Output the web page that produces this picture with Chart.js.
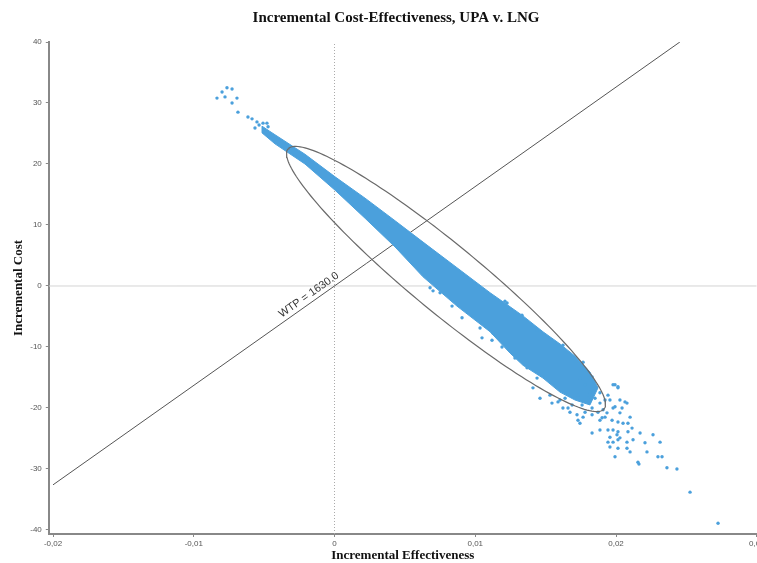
<!DOCTYPE html>
<html><head><meta charset="utf-8">
<script src="https://cdn.jsdelivr.net/npm/chart.js@4.4.1/dist/chart.umd.min.js"></script>
<style>
html,body{margin:0;padding:0;overflow:hidden;background:#fff;width:757px;height:563px}
#wrap{position:relative;width:792px;height:563px}
</style></head>
<body><div id="wrap"><canvas id="c"></canvas></div>
<script>
const chartTitle = 'Incremental Cost-Effectiveness, UPA v. LNG';
const xAxisTitle = 'Incremental Effectiveness';
const yAxisTitle = 'Incremental Cost';
const xTickValues = [-0.02, -0.01, 0, 0.01, 0.02, 0.03];
const xTickLabels = ['-0,02', '-0,01', '0', '0,01', '0,02', '0,03'];
const yTickValues = [-40, -30, -20, -10, 0, 10, 20, 30, 40];
const yTickLabels = ['-40', '-30', '-20', '-10', '0', '10', '20', '30', '40'];

const wtp = 1630;
const wtpLabel = 'WTP = 1630.0';
const wtpLineX = [-0.02, 0.02454];
const wtpLabelX = -0.00152;

const ellipseCenter = [0.007922, 1.148];
const ellipseMajor = [0.011226, -21.31];
const ellipseMinor = [-0.001542, -4.295];

// outline of the dense (solid) part of the simulation cloud
const denseBandX = [-0.00515, -0.00423, -0.00210, 0.00004, 0.00217, 0.00430, 0.00629, 0.00870, 0.01105, 0.01247, 0.01339, 0.01481, 0.01602, 0.01709, 0.01815, 0.01872,
  0.01815, 0.01709, 0.01602, 0.01481, 0.01339, 0.01247, 0.01105, 0.00870, 0.00629, 0.00430, 0.00217, 0.00004, -0.00210, -0.00423, -0.00515];
const denseBandY = [26.2, 24.8, 21.6, 17.9, 14.4, 10.7, 7.2, 3.0, -1.1, -3.4, -4.9, -7.5, -9.5, -11.5, -14.1, -16.7,
  -19.5, -18.7, -17.4, -15.1, -13.0, -11.0, -7.5, -3.3, 1.5, 6.4, 11.1, 15.7, 20.0, 23.3, 25.1];

// individually visible simulation points
const pointsX = [
  -0.00835, -0.00799, -0.00764, -0.00728, -0.00778, -0.00728, -0.00693, -0.00686, -0.00615, -0.00586, -0.00551, -0.00565, -0.00536, -0.00508, -0.00480, -0.00472,
  0.00679, 0.00700, 0.00750, 0.00835, 0.00906, 0.00927, 0.01211, 0.01226, 0.01332, 0.01034, 0.01048, 0.01126, 0.01389, 0.01439, 0.01623, 0.01766, 0.01830,
  0.01119, 0.01190, 0.01282, 0.01368, 0.01439, 0.01545, 0.01588, 0.01659, 0.01723, 0.01744, 0.01460, 0.01410, 0.01531,
  0.01744, 0.01780, 0.01815, 0.01851, 0.01886, 0.01858, 0.01801, 0.01759, 0.01830, 0.01872, 0.01908, 0.01922, 0.01886, 0.01844, 0.01730, 0.01688, 0.01780, 0.01638,
  0.01993, 0.02014, 0.01943, 0.02028, 0.02078, 0.01979, 0.02028, 0.02100, 0.01922, 0.01886, 0.01830, 0.01766, 0.01730, 0.01673, 0.01623, 0.01602,
  0.02064, 0.01957, 0.01993, 0.02043, 0.01936, 0.01901, 0.01972, 0.02014, 0.02050, 0.02114, 0.01830, 0.01886, 0.01943, 0.01957, 0.02007, 0.02014, 0.02085,
  0.01943, 0.01979, 0.02014, 0.02078, 0.02121, 0.02171, 0.02263, 0.02313, 0.01957, 0.02014, 0.02078, 0.02100, 0.02206, 0.02220, 0.01993, 0.02156, 0.02163,
  0.02298, 0.02327, 0.02362, 0.02433, 0.02526, 0.02725, 0.02085, 0.02028, 0.01979, 0.01979, 0.02014];
const pointsY = [
  30.8, 31.8, 32.5, 32.3, 31.0, 30.0, 30.8, 28.5, 27.7, 27.4, 26.9, 25.9, 26.4, 26.7, 26.7, 26.1,
  -0.3, -0.8, -1.1, -3.3, -5.2, 1.5, -2.5, -2.8, -4.8, -6.9, -8.5, -7.7, -6.9, -7.2, -9.7, -12.5, -14.9,
  -8.9, -10.0, -11.8, -13.4, -15.1, -19.2, -19.0, -20.0, -21.1, -22.5, -18.4, -16.7, -17.9,
  -15.1, -16.2, -17.4, -18.4, -19.2, -16.7, -18.4, -19.5, -20.0, -20.7, -20.3, -18.7, -17.5, -15.7, -17.9, -19.5, -20.7, -18.4,
  -16.2, -16.7, -17.9, -18.7, -19.2, -20.0, -20.8, -21.5, -21.5, -22.0, -21.1, -21.5, -22.0, -20.7, -20.0, -18.7,
  -19.0, -18.7, -19.8, -20.0, -20.8, -21.6, -22.0, -22.3, -22.5, -23.3, -24.1, -23.6, -23.6, -24.8, -24.4, -23.9, -23.9,
  -25.6, -25.6, -25.2, -25.6, -25.2, -24.1, -24.4, -25.6, -26.4, -26.6, -26.6, -27.2, -25.7, -27.2, -28.0, -28.9, -29.2,
  -28.0, -28.0, -29.8, -30.0, -33.8, -38.9, -22.5, -24.9, -23.6, -16.2, -16.5];

const BLUE = '#4ba0dc';

const bandData = denseBandX.map((x, i) => ({x, y: denseBandY[i]}));
bandData.push({x: denseBandX[0], y: denseBandY[0]});
const pointData = pointsX.map((x, i) => ({x, y: pointsY[i]}));
const wtpData = wtpLineX.map(x => ({x, y: wtp * x}));
const ellipseData = [];
for (let k = 0; k <= 180; k++) {
  const t = 2 * Math.PI * k / 180;
  ellipseData.push({
    x: ellipseCenter[0] + Math.cos(t) * ellipseMajor[0] + Math.sin(t) * ellipseMinor[0],
    y: ellipseCenter[1] + Math.cos(t) * ellipseMajor[1] + Math.sin(t) * ellipseMinor[1]
  });
}

const wtpLabelPlugin = {
  id: 'wtpLabel',
  afterDatasetsDraw(chart) {
    const {ctx, scales: {x, y}} = chart;
    const x1 = x.getPixelForValue(wtpLineX[0]), y1 = y.getPixelForValue(wtp * wtpLineX[0]);
    const x2 = x.getPixelForValue(wtpLineX[1]), y2 = y.getPixelForValue(wtp * wtpLineX[1]);
    const ang = Math.atan2(y2 - y1, x2 - x1);
    const px = x.getPixelForValue(wtpLabelX), py = y.getPixelForValue(wtp * wtpLabelX);
    ctx.save();
    ctx.translate(px, py);
    ctx.rotate(ang);
    ctx.font = '11px "Liberation Sans", Arial, sans-serif';
    ctx.fillStyle = '#333';
    ctx.textAlign = 'center';
    ctx.textBaseline = 'bottom';
    ctx.fillText(wtpLabel, 0, -2);
    ctx.restore();
  }
};

const titlePlugin = {
  id: 'mainTitle',
  afterDraw(chart) {
    const ctx = chart.ctx;
    ctx.save();
    ctx.font = 'bold 15px "Liberation Serif", "Times New Roman", serif';
    ctx.fillStyle = '#111';
    ctx.textAlign = 'center';
    ctx.textBaseline = 'middle';
    ctx.fillText(chartTitle, 396, 18);
    ctx.restore();
  }
};

const tickFont = {family: '"Liberation Sans", Arial, sans-serif', size: 8};
const titleFont = {family: '"Liberation Serif", "Times New Roman", serif', size: 13, weight: 'bold'};

new Chart(document.getElementById('c'), {
  type: 'scatter',
  data: {
    datasets: [
      {type: 'line', data: ellipseData, borderColor: '#6a6a6a', borderWidth: 1.2, pointRadius: 0, fill: false, order: 0},
      {type: 'scatter', data: pointData, backgroundColor: BLUE, borderWidth: 0, pointRadius: 1.7, order: 1},
      {type: 'line', data: bandData, borderColor: BLUE, backgroundColor: BLUE, borderWidth: 1, pointRadius: 0, fill: 'shape', tension: 0, order: 2},
      {type: 'line', data: wtpData, borderColor: '#555', borderWidth: 1, pointRadius: 0, fill: false, order: 3},
      {type: 'line', data: [{x: 0, y: -40.66}, {x: 0, y: 40}], borderColor: '#aaa', borderWidth: 1, borderDash: [1, 2], pointRadius: 0, fill: false, order: 4},
      {type: 'line', data: [{x: -0.0203, y: 0}, {x: 0.03, y: 0}], borderColor: '#d4d4d4', borderWidth: 1, pointRadius: 0, fill: false, order: 5}
    ]
  },
  options: {
    responsive: true,
    maintainAspectRatio: false,
    animation: false,
    layout: {padding: {left: 0, right: 35.25, top: 42, bottom: 0}},
    plugins: {
      legend: {display: false},
      tooltip: {enabled: false},
      title: {display: false}
    },
    scales: {
      x: {
        type: 'linear', min: -0.0203, max: 0.03,
        afterBuildTicks: s => { s.ticks = xTickValues.map(v => ({value: v})); },
        afterFit: s => { s.height = 29; },
        ticks: {font: tickFont, color: '#555', padding: 2, maxRotation: 0,
          callback: v => { const i = xTickValues.findIndex(t => Math.abs(t - v) < 1e-9); return i >= 0 ? xTickLabels[i] : ''; }},
        grid: {drawOnChartArea: false, tickLength: 3, color: '#888'},
        border: {color: '#888', width: 2},
        title: {display: true, text: xAxisTitle, color: '#111', font: titleFont, padding: {top: 0, bottom: 0}}
      },
      y: {
        type: 'linear', min: -40.66, max: 40,
        afterBuildTicks: s => { s.ticks = yTickValues.map(v => ({value: v})); },
        afterFit: s => { s.width = 48.8; },
        ticks: {font: tickFont, color: '#555', padding: 4,
          callback: v => { const i = yTickValues.indexOf(v); return i >= 0 ? yTickLabels[i] : ''; }},
        grid: {drawOnChartArea: false, tickLength: 3, color: '#888'},
        border: {color: '#888', width: 2},
        title: {display: true, text: yAxisTitle, color: '#111', font: titleFont, padding: {top: 11, bottom: 0}}
      }
    }
  },
  plugins: [wtpLabelPlugin, titlePlugin]
});
</script>
</body></html>
